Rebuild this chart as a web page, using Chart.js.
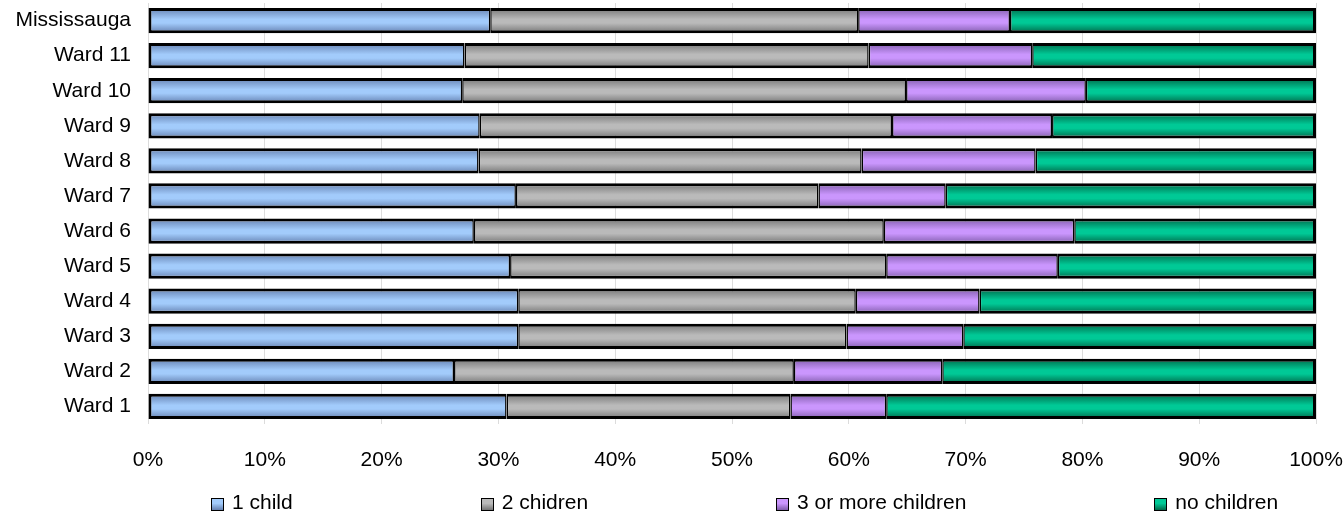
<!DOCTYPE html>
<html>
<head>
<meta charset="utf-8">
<script src="https://cdn.jsdelivr.net/npm/chart.js@4.4.1/dist/chart.umd.min.js"></script>
<style>
    html, body { margin: 0; padding: 0; background: #fff; }
    #wrap { position: relative; width: 1343px; height: 513px; }
    #legend {
        position: absolute; left: 211px; top: 490px;
        display: flex; gap: 188px;
        font-family: "Liberation Sans", Arial, sans-serif; font-size: 21px; line-height: 24px; color: #000;
        white-space: nowrap;
    }
    .item { display: flex; align-items: flex-start; }
    .box { width: 11px; height: 11px; border: 1.5px solid #000; margin-top: 8px; margin-right: 8px; }
</style>
</head>
<body>
<div id="wrap">
    <canvas id="wardChart" width="1343" height="513"></canvas>
    <div id="legend"></div>
</div>
<script>
// categories top to bottom
const wards = ['Mississauga', 'Ward 11', 'Ward 10', 'Ward 9', 'Ward 8', 'Ward 7',
    'Ward 6', 'Ward 5', 'Ward 4', 'Ward 3', 'Ward 2', 'Ward 1'];

// share of families (%) by number of children
const oneChild = [29.3, 27.1, 26.9, 28.4, 28.3, 31.5, 27.9, 31.0, 31.7, 31.7, 26.2, 30.7];
const twoChildren = [31.5, 34.6, 38.0, 35.3, 32.8, 25.9, 35.1, 32.2, 28.9, 28.1, 29.1, 24.3];
const threePlus = [13.0, 14.0, 15.4, 13.7, 14.9, 10.9, 16.3, 14.7, 10.6, 10.0, 12.7, 8.2];
const noChildren = [26.2, 24.3, 19.7, 22.6, 24.0, 31.7, 20.7, 22.1, 28.8, 30.2, 32.0, 36.8];

const seriesNames = ['1 child', '2 chidren', '3 or more children', 'no children'];
const xTicks = [0, 10, 20, 30, 40, 50, 60, 70, 80, 90, 100];

// light / dark shades for the bar gradients
const shades = [
    ['#a2cbfb', '#6480b0'],
    ['#bababa', '#757575'],
    ['#ca96fd', '#805cab'],
    ['#00c996', '#006848']
];

const BAR_PCT = 0.72;

function barFill(i) {
    return function (context) {
        const chart = context.chart;
        const y = chart.scales.y;
        if (!chart.chartArea || !y || context.dataIndex === undefined) return shades[i][0];
        const c = y.getPixelForValue(context.dataIndex);
        const h = (chart.chartArea.bottom - chart.chartArea.top) / wards.length * BAR_PCT;
        const g = chart.ctx.createLinearGradient(0, c - h / 2, 0, c + h / 2);
        g.addColorStop(0, shades[i][1]);
        g.addColorStop(0.45, shades[i][0]);
        g.addColorStop(0.6, shades[i][0]);
        g.addColorStop(1, shades[i][1]);
        return g;
    };
}

// heavy outline, joints between segments about 3px
function border(i) {
    return {
        top: 3, bottom: 3,
        left: i === 0 ? 3 : 1.5,
        right: i === 3 ? 3 : 1.5
    };
}

const values = [oneChild, twoChildren, threePlus, noChildren];
const datasets = values.map((v, i) => ({
    label: seriesNames[i],
    data: v,
    backgroundColor: barFill(i),
    borderColor: '#000',
    borderWidth: border(i),
    borderSkipped: false,
    barPercentage: 1,
    categoryPercentage: BAR_PCT
}));

const font = { family: '"Liberation Sans", Arial, sans-serif', size: 21 };

new Chart(document.getElementById('wardChart').getContext('2d'), {
    type: 'bar',
    data: { labels: wards, datasets: datasets },
    options: {
        indexAxis: 'y',
        responsive: false,
        animation: false,
        devicePixelRatio: 1,
        layout: { padding: { top: 3, right: 27, left: 0, bottom: 0 } },
        plugins: { legend: { display: false }, tooltip: { enabled: false } },
        scales: {
            x: {
                stacked: true,
                min: 0,
                max: 100,
                afterBuildTicks: scale => { scale.ticks = xTicks.map(v => ({ value: v })); },
                afterFit: scale => { scale.height = 89; },
                grid: { color: '#dcdcdc', lineWidth: 1, drawTicks: true, tickLength: 24, tickColor: 'rgba(0,0,0,0)' },
                border: { display: false },
                ticks: {
                    font: font,
                    color: '#000',
                    padding: 0,
                    maxRotation: 0,
                    callback: v => v + '%'
                }
            },
            y: {
                stacked: true,
                afterFit: scale => { scale.width = 148; },
                grid: { display: false, drawTicks: true, tickLength: 17 },
                border: { display: false },
                ticks: { font: { ...font, lineHeight: 0.2 }, color: '#000', padding: 0 }
            }
        }
    }
});

// legend below the plot
const legend = document.getElementById('legend');
seriesNames.forEach((name, i) => {
    const item = document.createElement('div');
    item.className = 'item';
    const box = document.createElement('div');
    box.className = 'box';
    box.style.background = `linear-gradient(${shades[i][0]} 40%, ${shades[i][1]})`;
    item.appendChild(box);
    item.appendChild(document.createTextNode(name));
    legend.appendChild(item);
});
</script>
</body>
</html>
